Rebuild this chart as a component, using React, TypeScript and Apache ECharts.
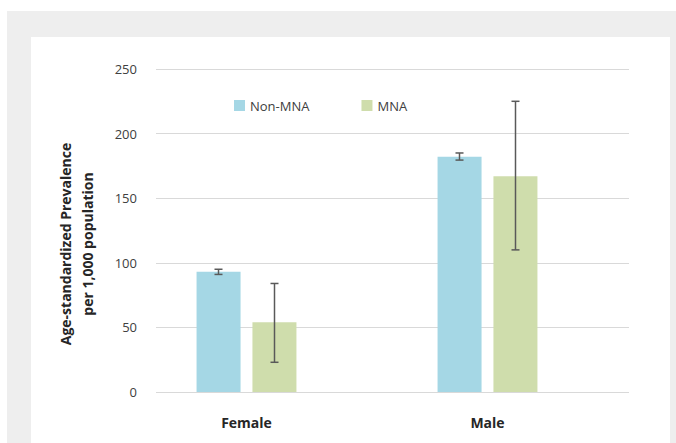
import React, { useEffect, useRef } from "react";
import * as echarts from "echarts";

const categories = ["Female", "Male"];
const seriesNames = ["Non-MNA", "MNA"];
const nonMnaValues = [93, 182];
const nonMnaLow = [91, 179.5];
const nonMnaHigh = [95, 185];
const mnaValues = [54, 167];
const mnaLow = [23, 110];
const mnaHigh = [84, 225];
const yTicks = { min: 0, max: 250, interval: 50 };

const FONT = "'Open Sans', 'Noto Sans', sans-serif";

export default function App() {
  const ref = useRef<HTMLDivElement>(null);
  useEffect(() => {
    if (!ref.current) return;
    const chart = echarts.init(ref.current, null, { renderer: "svg" });
    const barOffset = 28;
    const errSeries = (low: number[], high: number[], offset: number, name: string) => ({
      type: "custom",
      name: name + " error",
      xAxisIndex: 1,
      yAxisIndex: 1,
      z: 10,
      silent: true,
      data: categories.map((_, i) => [i, low[i], high[i]]),
      encode: { x: 0, y: [1, 2] },
      renderItem: (params: any, api: any) => {
        const c = api.value(0);
        const lo = api.coord([c, api.value(1)]);
        const hi = api.coord([c, api.value(2)]);
        const x = lo[0] + offset;
        const cap = 4;
        const style = { stroke: "#595959", lineWidth: 1.5 };
        return {
          type: "group",
          children: [
            { type: "line", shape: { x1: x, y1: lo[1], x2: x, y2: hi[1] }, style },
            { type: "line", shape: { x1: x - cap, y1: lo[1], x2: x + cap, y2: lo[1] }, style },
            { type: "line", shape: { x1: x - cap, y1: hi[1], x2: x + cap, y2: hi[1] }, style },
          ],
        };
      },
    });
    chart.setOption({
      animation: false,
      backgroundColor: "#ffffff",
      textStyle: { fontFamily: FONT },
      graphic: [
        { type: "rect", z: -10, shape: { x: 7, y: 11, width: 669, height: 432 }, style: { fill: "#eeeeee" } },
        { type: "rect", z: -9, shape: { x: 31, y: 37, width: 639, height: 406 }, style: { fill: "#ffffff" } },
        {
          type: "text",
          x: 76,
          y: 244,
          rotation: Math.PI / 2,
          style: {
            text: "Age-standardized Prevalence\nper 1,000 population",
            fontFamily: FONT,
            fontSize: 14,
            fontWeight: "bold",
            fill: "#262626",
            align: "center",
            verticalAlign: "middle",
            lineHeight: 22,
          },
        },
      ],
      legend: {
        data: seriesNames,
        left: 229,
        top: 94,
        itemWidth: 11,
        itemHeight: 11,
        itemGap: 52,
        icon: "rect",
        textStyle: { fontFamily: FONT, fontSize: 13, color: "#404040" },
      },
      grid: [
        { left: 156, right: 47, top: 69, bottom: 51 },
        { left: 126, width: 482, top: 69, bottom: 51 },
      ],
      xAxis: [
        { type: "category", gridIndex: 0, data: categories, show: false },
        {
          type: "category",
          gridIndex: 1,
          data: categories,
          axisLine: { show: false },
          axisTick: { show: false },
          axisLabel: {
            margin: 22,
            fontFamily: FONT,
            fontSize: 14,
            fontWeight: "bold",
            color: "#262626",
            lineHeight: 16,
          },
        },
      ],
      yAxis: [
        {
          type: "value",
          gridIndex: 0,
          min: yTicks.min,
          max: yTicks.max,
          interval: yTicks.interval,
          axisLine: { show: false },
          axisTick: { show: false },
          axisLabel: { margin: 19, fontFamily: FONT, fontSize: 13, color: "#404040" },
          splitLine: { lineStyle: { color: "#d9d9d9", width: 1 } },
        },
        {
          type: "value",
          gridIndex: 1,
          min: yTicks.min,
          max: yTicks.max,
          interval: yTicks.interval,
          show: false,
          splitLine: { show: false },
        },
      ],
      series: [
        {
          type: "bar",
          name: seriesNames[0],
          xAxisIndex: 1,
          yAxisIndex: 1,
          data: nonMnaValues,
          barWidth: 44,
          barGap: "27%",
          itemStyle: { color: "#a5d7e5" },
        },
        {
          type: "bar",
          name: seriesNames[1],
          xAxisIndex: 1,
          yAxisIndex: 1,
          data: mnaValues,
          barWidth: 44,
          barGap: "27%",
          itemStyle: { color: "#cfddac" },
        },
        errSeries(nonMnaLow, nonMnaHigh, -barOffset, seriesNames[0]),
        errSeries(mnaLow, mnaHigh, barOffset, seriesNames[1]),
      ],
    });
    return () => chart.dispose();
  }, []);
  return (
    <div
      ref={ref}
      style={{ position: "fixed", left: 0, top: 0, width: 676, height: 443 }}
    />
  );
}
